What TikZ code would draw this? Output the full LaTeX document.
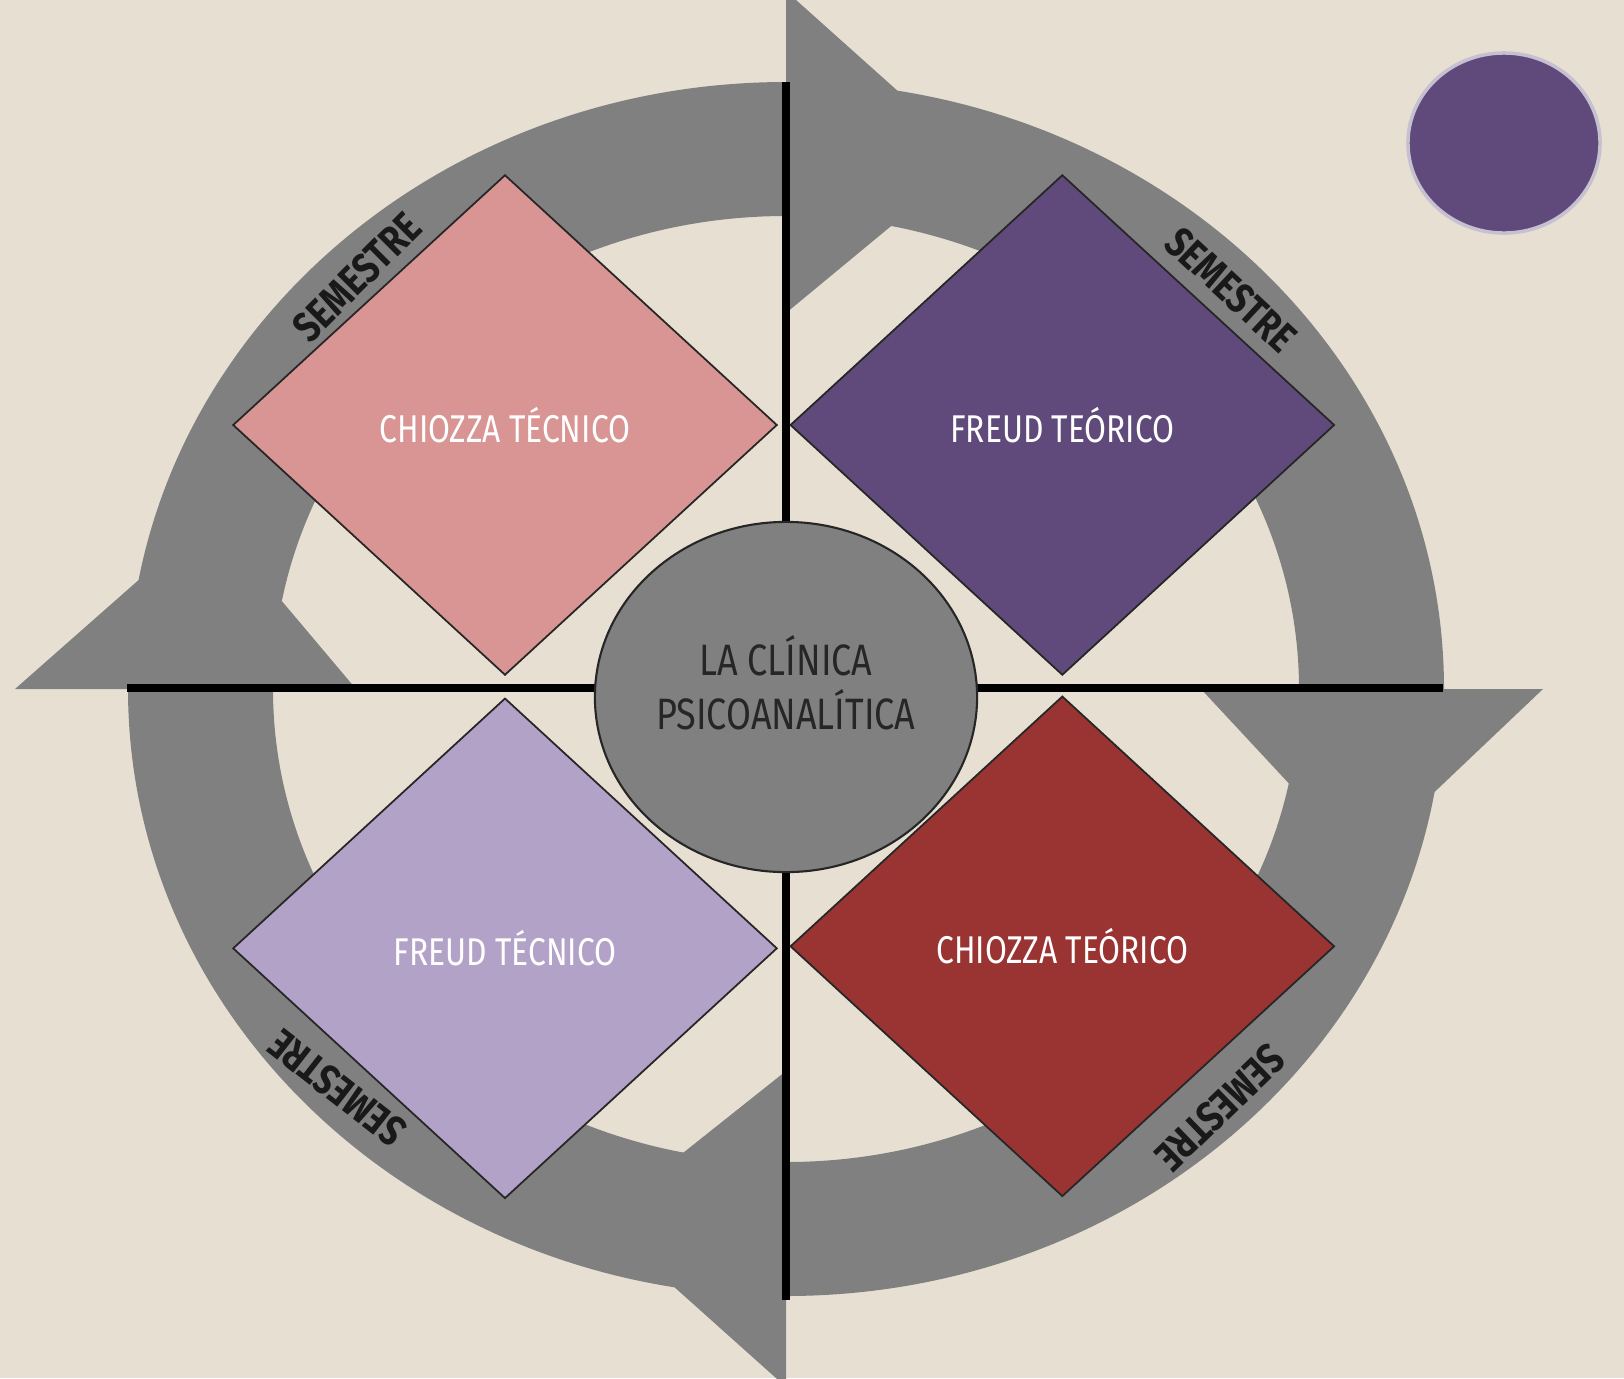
\documentclass[tikz,border=0pt]{standalone}
\usepackage{fontspec}
\newfontfamily\handfont[FakeStretch=0.82]{Fira Sans}
\usetikzlibrary{positioning}
\usetikzlibrary{shapes.geometric}
\definecolor{papel}{HTML}{E7DFD2}
\definecolor{anillo}{HTML}{808080}
\definecolor{rosa}{HTML}{D99594}
\definecolor{morado}{HTML}{5F4A7B}
\definecolor{lila}{HTML}{B3A2C8}
\definecolor{granate}{HTML}{993432}
\tikzset{ring/.style={fill=anillo}}
\tikzset{axis/.style={line width=0.8mm, black}}
\tikzset{quad/.style={diamond, draw=black!85, line width=0.5pt, minimum width=5.44cm, minimum height=5cm, inner sep=0pt, text=white, font=\handfont\fontsize{11}{13}\selectfont}}
\tikzset{hub/.style={ellipse, draw=black!85, line width=0.6pt, fill=anillo, minimum width=3.82cm, minimum height=3.5cm, inner sep=0pt}}
\tikzset{hubtext/.style={align=center, inner sep=0pt, text=black!85, font=\handfont\fontsize{12.5}{15.4}\selectfont}}
\tikzset{sem/.style={inner sep=0pt, text=black!90, font=\handfont\bfseries\fontsize{12}{14}\selectfont}}
\tikzset{dot/.style={ellipse, fill=morado, draw=morado!35, line width=1pt, minimum width=1.92cm, minimum height=1.8cm}}

\begin{document}
\begin{tikzpicture}[x=0.01cm, y=-0.01cm]
\useasboundingbox[fill=papel] (0,0) rectangle (1624,1378);

% ring of four arrows, clockwise
\begin{scope}[shift={(786,689)}]
\fill[ring] (0:658 and 607) arc[start angle=0, end angle=90, x radius=658, y radius=607]
  -- (90:757 and 698) -- (108:605 and 558) -- (90:415 and 382) -- (90:513 and 473)
  arc[start angle=90, end angle=0, x radius=513, y radius=473] -- cycle;
\fill[ring] (90:658 and 607) arc[start angle=90, end angle=180, x radius=658, y radius=607]
  -- (180:771 and 698) -- (198:605 and 558) -- (180:430 and 382) -- (180:513 and 473)
  arc[start angle=180, end angle=90, x radius=513, y radius=473] -- cycle;
\fill[ring] (180:658 and 607) arc[start angle=180, end angle=270, x radius=658, y radius=607]
  -- (270:757 and 698) -- (288:605 and 558) -- (270:415 and 376) -- (270:513 and 473)
  arc[start angle=270, end angle=180, x radius=513, y radius=473] -- cycle;
\fill[ring] (270:658 and 607) arc[start angle=270, end angle=360, x radius=658, y radius=607]
  -- (360:757 and 698) -- (378:605 and 558) -- (360:415 and 382) -- (360:513 and 473)
  arc[start angle=360, end angle=270, x radius=513, y radius=473] -- cycle;
\end{scope}

\coordinate (n) at (786,82);
\coordinate (s) at (786,1300);
\coordinate (w) at (127,688);
\coordinate (e) at (1443,688);
\draw[axis] (n) -- (s);
\draw[axis] (w) -- (e);

\begin{scope}[on grid]
\node[quad, fill=rosa] (chtec) at (505,425) {CHIOZZA TÉCNICO};
\node[quad, fill=morado] (frteo) [right=5.57cm of chtec] {FREUD TEÓRICO};
\node[quad, fill=lila] (frtec) [below=5.23cm of chtec] {FREUD TÉCNICO};
\node[quad, fill=granate] (chteo) [below=5.21cm of frteo] {CHIOZZA TEÓRICO};
\end{scope}

\node[hub] (clinica) at (786,697) {};
\node[hubtext] (clinicatxt) at ([yshift=0.14cm]clinica.center) {LA CLÍNICA\\PSICOANALÍTICA};

\node[sem, rotate=45] (sem1) at (357,277) {SEMESTRE};
\node[sem, rotate=-43] (sem2) at (1231,290) {SEMESTRE};
\node[sem, rotate=-136] (sem3) at (1220,1108) {SEMESTRE};
\node[sem, rotate=142] (sem4) at (337,1088) {SEMESTRE};

\node[dot] (punto) at (1504,143) {};
\end{tikzpicture}
\end{document}
